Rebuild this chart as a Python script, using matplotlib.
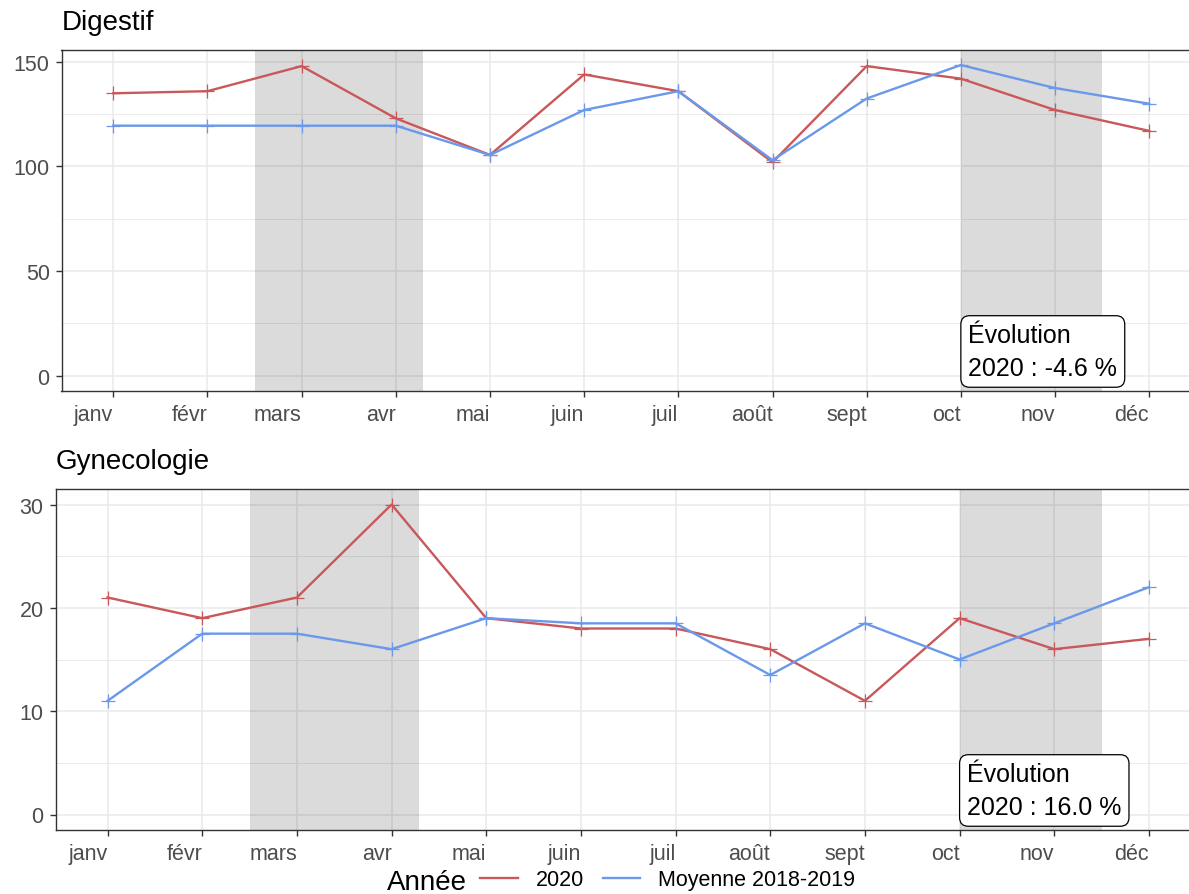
import matplotlib
matplotlib.use("Agg")
import matplotlib.pyplot as plt
import matplotlib.transforms as mtransforms
from matplotlib.lines import Line2D

plt.rcParams['font.family'] = ['Liberation Sans', 'DejaVu Sans']

# ---------------- data ----------------
months = ["janv", "févr", "mars", "avr", "mai", "juin",
          "juil", "août", "sept", "oct", "nov", "déc"]

digestif_2020 = [135, 136, 148, 123, 105.5, 144, 136, 102, 148, 142, 127, 117]
digestif_moy = [119.5, 119.5, 119.5, 119.5, 105.5, 127, 136, 103, 132.5, 148.5, 137.5, 130]

gyneco_2020 = [21, 19, 21, 30, 19, 18, 18, 16, 11, 19, 16, 17]
gyneco_moy = [11, 17.5, 17.5, 16, 19, 18.5, 18.5, 13.5, 18.5, 15, 18.5, 22]

# lockdown periods, in month-index units (janv = 0)
lockdowns = [(1.5, 3.29), (9.0, 10.5)]

series_names = ["2020", "Moyenne 2018-2019"]
series_colors = ["#C8585A", "#6A98EA"]

titles = ["Digestif", "Gynecologie"]
evolution_labels = ["Évolution\n2020 : -4.6 %", "Évolution\n2020 : 16.0 %"]

# ---------------- figure ----------------
W, H = 1189, 895
fig = plt.figure(figsize=(W / 100, H / 100), dpi=100)

def frac_rect(l, t, r, b):
    return [l / W, 1 - b / H, (r - l) / W, (b - t) / H]

panels = [
    dict(title=titles[0], s2020=digestif_2020, smoy=digestif_moy,
         yticks=[0, 50, 100, 150], yminor=[25, 75, 125], ylim=(-7.4, 155.7),
         label=evolution_labels[0], rect=frac_rect(61.5, 51, 1201, 392),
         title_pos=(62, 30)),
    dict(title=titles[1], s2020=gyneco_2020, smoy=gyneco_moy,
         yticks=[0, 10, 20, 30], yminor=[5, 15, 25], ylim=(-1.5, 31.5),
         label=evolution_labels[1], rect=frac_rect(55.5, 490, 1201, 831),
         title_pos=(56, 469)),
]

x = list(range(len(months)))
border_col = "#333333"
grid_col = "#EBEBEB"
tick_lab_col = "#4D4D4D"

for p in panels:
    ax = fig.add_axes(p["rect"])
    ax.set_facecolor("white")
    ax.set_axisbelow(True)
    ax.set_xlim(-0.55, 11.55)
    ax.set_ylim(*p["ylim"])

    # grid
    ax.set_yticks(p["yticks"])
    ax.set_yticks(p["yminor"], minor=True)
    ax.set_xticks(x)
    ax.set_xticklabels(months, ha="right")
    ax.grid(True, which="major", color=grid_col, lw=1.2)
    ax.grid(True, which="minor", axis="y", color=grid_col, lw=0.7)

    # lockdown shading
    for a, b in lockdowns:
        ax.axvspan(a, b, color="black", alpha=0.14, lw=0, zorder=1)

    # series
    for vals, col in zip([p["s2020"], p["smoy"]], series_colors):
        ax.plot(x, vals, color=col, lw=1.7, marker="+", ms=10.5, mew=0.9, zorder=3)

    for sp in ax.spines.values():
        sp.set_color(border_col)
        sp.set_linewidth(1.0)

    ax.tick_params(axis="both", which="major", length=4.5, width=1.0,
                   color=border_col, labelcolor=tick_lab_col, labelsize=15.5)
    ax.tick_params(axis="x", pad=5)
    ax.tick_params(axis="y", pad=4)
    ax.tick_params(which="minor", length=0)

    # evolution label box
    trans = mtransforms.blended_transform_factory(ax.transData, ax.transAxes)
    fs = 18
    pad = 0.3
    ax.annotate(p["label"], xy=(9.0, 0.011), xycoords=trans,
                xytext=(pad * fs, pad * fs), textcoords="offset points",
                ha="left", va="bottom", fontsize=fs, linespacing=1.45,
                color="black", zorder=5,
                bbox=dict(boxstyle=f"round,pad={pad},rounding_size=0.35",
                          fc="white", ec="black", lw=0.9))

    tx, ty = p["title_pos"]
    fig.text(tx / W, 1 - ty / H, p["title"], fontsize=20, color="black",
             ha="left", va="baseline")

# legend
fig.text(387 / W, 1 - 890 / H, "Année", fontsize=20, color="black",
         ha="left", va="baseline")
handles = [Line2D([], [], color=c, lw=1.7) for c in series_colors]
fig.legend(handles, series_names, loc="center left",
           bbox_to_anchor=(480 / W, 1 - 881 / H), ncol=2, frameon=False,
           fontsize=15.5, handlelength=1.75, handletextpad=0.85,
           columnspacing=0.85, borderpad=0, borderaxespad=0,
           labelcolor="black")

fig.savefig("out.png", dpi=100)
